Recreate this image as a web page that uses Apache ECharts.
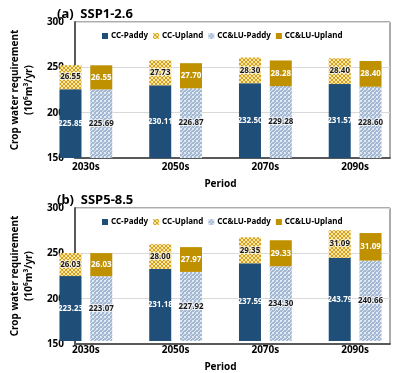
<!DOCTYPE html>
<html><head><meta charset="utf-8">
<script src="https://cdn.jsdelivr.net/npm/echarts@6/dist/echarts.min.js"></script>
<style>html,body{margin:0;padding:0;background:#fff}#c{width:400px;height:373px}</style>
</head><body><div id="c"></div>
<script>
// ---- data ----
const categories = ['2030s', '2050s', '2070s', '2090s'];
const seriesNames = ['CC-Paddy', 'CC-Upland', 'CC&LU-Paddy', 'CC&LU-Upland'];
const panelTitles = ['(a)  SSP1-2.6', '(b)  SSP5-8.5'];
const yTicks = [150, 200, 250, 300];

const ssp126_ccPaddy   = [225.85, 230.11, 232.50, 231.57];
const ssp126_ccUpland  = [26.55, 27.73, 28.30, 28.40];
const ssp126_cclPaddy  = [225.69, 226.87, 229.28, 228.60];
const ssp126_cclUpland = [26.55, 27.70, 28.28, 28.40];

const ssp585_ccPaddy   = [223.23, 231.18, 237.59, 243.79];
const ssp585_ccUpland  = [26.03, 28.00, 29.35, 31.09];
const ssp585_cclPaddy  = [223.07, 227.92, 234.30, 240.66];
const ssp585_cclUpland = [26.03, 27.97, 29.33, 31.09];

// ---- patterns ----
function makePattern(size, bg, fg, cells) {
  const c = document.createElement('canvas');
  c.width = size; c.height = size;
  const g = c.getContext('2d');
  g.fillStyle = bg; g.fillRect(0, 0, size, size);
  g.fillStyle = fg;
  cells.forEach(p => g.fillRect(p[0], p[1], 1, 1));
  return { image: c, repeat: 'repeat' };
}
const hatchGold = makePattern(4, '#F8E7A8', '#D4A21E',
  [[0,0],[1,1],[2,2],[3,3],[3,0],[2,1],[1,2],[0,3]]);
const checkBlue = makePattern(4, '#A3B8D3', '#E2E9F3',
  [[0,0],[1,0],[0,1],[1,1],[3,2],[2,3]]);

const colPaddy = '#1F4E79';
const colUpland = '#BF9000';
const fontFam = '"Noto Sans", "Open Sans", sans-serif';

const panels = [
  [ssp126_ccPaddy, ssp126_ccUpland, ssp126_cclPaddy, ssp126_cclUpland],
  [ssp585_ccPaddy, ssp585_ccUpland, ssp585_cclPaddy, ssp585_cclUpland]
];
const gridTops = [22, 208];
const gridH = 136;

const styles = [
  { color: colPaddy, label: '#FFFFFF', stack: 'cc' },
  { color: hatchGold, label: '#1A1A1A', stack: 'cc' },
  { color: checkBlue, label: '#1A1A1A', stack: 'cl' },
  { color: colUpland, label: '#FFFFFF', stack: 'cl' }
];
const boldText = { fontFamily: fontFam, fontSize: 10, fontWeight: 'bold', color: '#000' };

const grids = [], xAxes = [], yAxes = [], series = [], legends = [], titles = [];
panels.forEach((vals, p) => {
  const frameIdx = 2 * p, barIdx = 2 * p + 1;
  grids.push({ left: 56, right: 10, top: gridTops[p], height: gridH,
    show: true, borderColor: '#595959', borderWidth: 1 });
  grids.push({ left: 41, right: -6, top: gridTops[p], height: gridH });
  titles.push({ text: panelTitles[p], left: 52, top: gridTops[p] - 19,
    textStyle: { fontFamily: fontFam, fontSize: 13, fontWeight: 'bold', color: '#000' } });

  xAxes.push({ type: 'category', gridIndex: frameIdx, data: categories,
    axisLine: { show: true, onZero: false, lineStyle: { color: '#595959', width: 2 } },
    axisTick: { show: false }, axisLabel: { show: false }, splitLine: { show: false } });
  xAxes.push({ type: 'category', gridIndex: barIdx, data: categories,
    axisLine: { show: false }, axisTick: { show: false }, splitLine: { show: false },
    axisLabel: Object.assign({ margin: 4 }, boldText),
    name: 'Period', nameLocation: 'middle', nameGap: 21, nameTextStyle: boldText });

  yAxes.push({ type: 'value', gridIndex: frameIdx, min: yTicks[0], max: yTicks[yTicks.length - 1], interval: 50,
    axisLine: { show: true, onZero: false, lineStyle: { color: '#595959', width: 2 } },
    axisTick: { show: false },
    splitLine: { show: true, lineStyle: { color: '#D9D9D9', width: 1 } },
    axisLabel: Object.assign({ margin: 11 }, boldText),
    name: 'Crop water requirement\n(10⁶m³/yr)', nameLocation: 'middle', nameRotate: 90, nameGap: 32,
    nameTextStyle: Object.assign({ lineHeight: 14 }, boldText) });
  yAxes.push({ type: 'value', gridIndex: barIdx, min: yTicks[0], max: yTicks[yTicks.length - 1],
    show: false, splitLine: { show: false } });

  legends.push({ top: gridTops[p] + 5, left: 97, itemWidth: 6, itemHeight: 6, itemGap: 5, icon: 'rect',
    data: seriesNames,
    textStyle: { fontFamily: fontFam, fontSize: 8, fontWeight: 'bold', color: '#000', padding: [0, 0, 0, -2] } });

  vals.forEach((arr, s) => {
    const dark = styles[s].label !== '#FFFFFF';
    series.push({
      name: seriesNames[s], type: 'bar', xAxisIndex: barIdx, yAxisIndex: barIdx,
      stack: styles[s].stack + p, barWidth: 22, barGap: '40%',
      itemStyle: { color: styles[s].color },
      label: { show: true, position: 'inside', formatter: d => Number(d.value).toFixed(2),
        fontFamily: fontFam, fontSize: 8, fontWeight: 'bold', color: styles[s].label,
        textBorderColor: dark ? 'rgba(255,255,255,0.7)' : 'transparent',
        textBorderWidth: dark ? 2 : 0 },
      data: arr
    });
  });
});

const chart = echarts.init(document.getElementById('c'), null, { renderer: 'canvas' });
chart.setOption({
  animation: false,
  title: titles, grid: grids, xAxis: xAxes, yAxis: yAxes, legend: legends, series: series
});
</script></body></html>
